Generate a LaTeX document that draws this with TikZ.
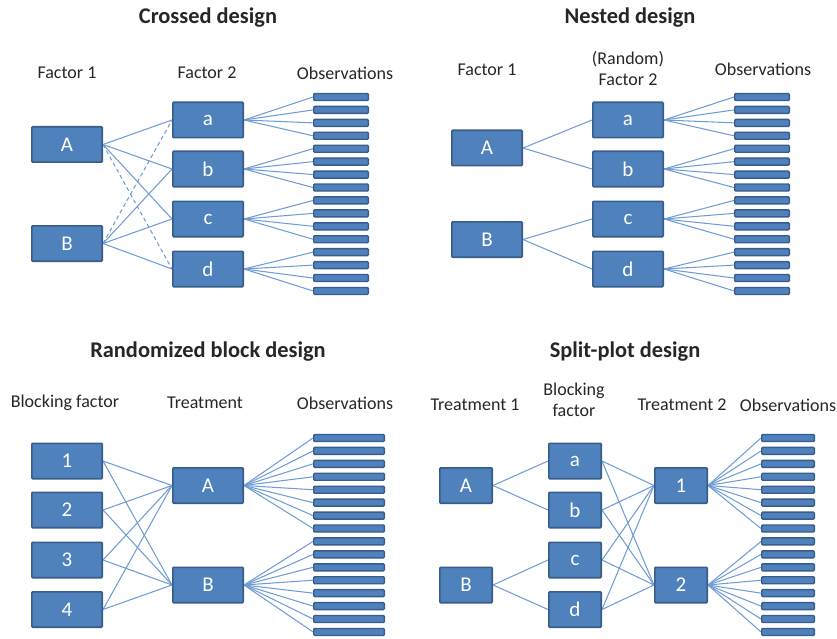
\documentclass[tikz,border=0pt]{standalone}
\usepackage{fontspec}
\setmainfont{Carlito}
\usetikzlibrary{backgrounds}
\definecolor{boxfill}{RGB}{79,129,189}
\definecolor{boxline}{RGB}{56,93,138}
\definecolor{connc}{RGB}{112,156,214}
\definecolor{txt}{RGB}{38,38,38}
\begin{document}
\begin{tikzpicture}[x=1pt,y=-1pt,
 box/.style={draw=boxline, line width=1.6pt, fill=boxfill, rounded corners=1pt, minimum height=35.4pt, inner sep=0pt, text=white, font=\fontsize{21}{24}\selectfont},
 bar/.style={draw=boxline, line width=1.4pt, fill=boxfill, rounded corners=1pt, minimum height=7pt, inner sep=0pt},
 conn/.style={draw=connc, line width=1.05pt},
 dconn/.style={conn, dash pattern=on 4pt off 3pt},
 ttl/.style={font=\bfseries\fontsize{22.4}{26}\selectfont, text=txt},
 lbl/.style={font=\fontsize{18}{21}\selectfont, text=txt, align=center},
]
\useasboundingbox (0,0) rectangle (837,639);

% ---------------- Crossed design ----------------
\node[ttl] (t1) at (208,18) {Crossed design};
\node[lbl] (c_l1) at (67,73) {Factor 1};
\node[lbl] (c_l2) at (207,73) {Factor 2};
\node[lbl] (c_l3) at (345,73) {Observations};
\node[box, minimum width=70.4pt] (cA) at (67,144.5) {A};
\node[box, minimum width=70.4pt] (cB) at (67,243.5) {B};
\foreach \n/\y in {a/120,b/169,c/219,d/269}
  \node[box, minimum width=70.4pt] (c\n) at (208,\y) {\n};
\foreach \i in {0,...,15}
  \node[bar, minimum width=54.6pt] (cobs\i) at (341,97+12.93*\i) {};
\begin{scope}[on background layer]
  \draw[conn] (cA.east) -- (ca.west);
  \draw[conn] (cA.east) -- (cb.west);
  \draw[conn] (cA.east) -- (cc.west);
  \draw[dconn] (cA.east) -- (cd.west);
  \draw[dconn] (cB.east) -- (ca.west);
  \draw[conn] (cB.east) -- (cb.west);
  \draw[conn] (cB.east) -- (cc.west);
  \draw[conn] (cB.east) -- (cd.west);
  \foreach \n/\s in {a/0,b/4,c/8,d/12}
    \foreach \k in {0,...,3} {
      \pgfmathtruncatemacro\j{\s+\k}
      \draw[conn] (c\n.east) -- (cobs\j.west);
    }
\end{scope}

% ---------------- Nested design ----------------
\node[ttl] (t2) at (630,18) {Nested design};
\node[lbl] (n_l1) at (487,70) {Factor 1};
\node[lbl] (n_l2) at (628,68.5) {(Random)\\Factor 2};
\node[lbl] (n_l3) at (763,69) {Observations};
\node[box, minimum width=70.4pt] (nA) at (487,148) {A};
\node[box, minimum width=70.4pt] (nB) at (487,239.5) {B};
\foreach \n/\y in {a/120,b/169,c/219,d/269}
  \node[box, minimum width=70.4pt] (n\n) at (628,\y) {\n};
\foreach \i in {0,...,15}
  \node[bar, minimum width=54.6pt] (nobs\i) at (762,97+12.93*\i) {};
\begin{scope}[on background layer]
  \draw[conn] (nA.east) -- (na.west);
  \draw[conn] (nA.east) -- (nb.west);
  \draw[conn] (nB.east) -- (nc.west);
  \draw[conn] (nB.east) -- (nd.west);
  \foreach \n/\s in {a/0,b/4,c/8,d/12}
    \foreach \k in {0,...,3} {
      \pgfmathtruncatemacro\j{\s+\k}
      \draw[conn] (n\n.east) -- (nobs\j.west);
    }
\end{scope}

% ---------------- Randomized block design ----------------
\node[ttl] (t3) at (208,352) {Randomized block design};
\node[lbl] (r_l1) at (65,403) {Blocking factor};
\node[lbl] (r_l2) at (205,403) {Treatment};
\node[lbl] (r_l3) at (345,403) {Observations};
\foreach \n/\y in {1/461,2/510,3/560,4/609.5}
  \node[box, minimum width=70.4pt] (r\n) at (67,\y) {\n};
\node[box, minimum width=70.4pt] (rA) at (208,485.5) {A};
\node[box, minimum width=70.4pt] (rB) at (208,585) {B};
\foreach \i in {0,...,15}
  \node[bar, minimum width=70.6pt] (robs\i) at (349,438+12.93*\i) {};
\begin{scope}[on background layer]
  \foreach \n in {1,...,4} {
    \draw[conn] (r\n.east) -- (rA.west);
    \draw[conn] (r\n.east) -- (rB.west);
  }
  \foreach \k in {0,...,7} {
    \pgfmathtruncatemacro\j{\k+8}
    \draw[conn] (rA.east) -- (robs\k.west);
    \draw[conn] (rB.east) -- (robs\j.west);
  }
\end{scope}

% ---------------- Split-plot design ----------------
\node[ttl] (t4) at (625,352) {Split-plot design};
\node[lbl] (s_l1) at (475,405) {Treatment 1};
\node[lbl] (s_l2) at (574,399.5) {Blocking\\factor};
\node[lbl] (s_l3) at (682,405) {Treatment 2};
\node[lbl] (s_l4) at (788,405) {Observations};
\node[box, minimum width=52.4pt] (sA) at (466,485.5) {A};
\node[box, minimum width=52.4pt] (sB) at (466,585) {B};
\foreach \n/\y in {a/461,b/510,c/560,d/609.5}
  \node[box, minimum width=52.4pt] (s\n) at (575,\y) {\n};
\node[box, minimum width=52.4pt] (s1) at (681,485.5) {1};
\node[box, minimum width=52.4pt] (s2) at (681,585) {2};
\foreach \i in {0,...,15}
  \node[bar, minimum width=52.6pt] (sobs\i) at (788,438+12.93*\i) {};
\begin{scope}[on background layer]
  \draw[conn] (sA.east) -- (sa.west);
  \draw[conn] (sA.east) -- (sb.west);
  \draw[conn] (sB.east) -- (sc.west);
  \draw[conn] (sB.east) -- (sd.west);
  \foreach \n in {a,b,c,d} {
    \draw[conn] (s\n.east) -- (s1.west);
    \draw[conn] (s\n.east) -- (s2.west);
  }
  \foreach \k in {0,...,7} {
    \pgfmathtruncatemacro\j{\k+8}
    \draw[conn] (s1.east) -- (sobs\k.west);
    \draw[conn] (s2.east) -- (sobs\j.west);
  }
\end{scope}
\end{tikzpicture}
\end{document}
